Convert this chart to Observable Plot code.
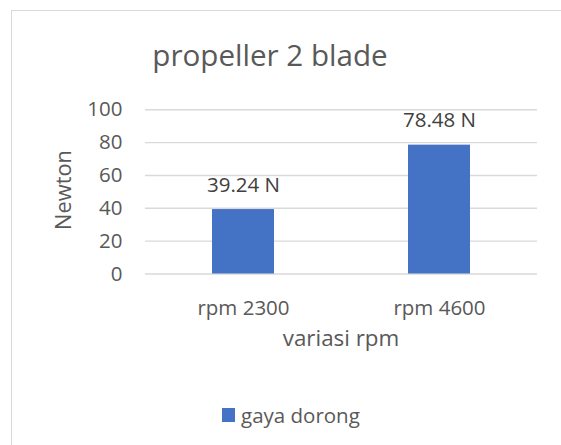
<!DOCTYPE html>
<html>
<head>
<meta charset="utf-8">
<script src="https://cdn.jsdelivr.net/npm/d3@7"></script>
<script src="https://cdn.jsdelivr.net/npm/@observablehq/plot@0.6"></script>
<style>
  html, body { margin: 0; padding: 0; background: #fff; }
  #wrap { position: relative; width: 561px; height: 445px; overflow: hidden; font-family: "Open Sans", sans-serif; color: #595959; }
  #frame { position: absolute; left: 11px; top: 10px; width: 600px; height: 500px; border-top: 1.5px solid #d9d9d9; border-left: 1.5px solid #d9d9d9; box-sizing: border-box; }
  #chart { position: absolute; left: 0; top: 0; }
  .t { position: absolute; line-height: 1; white-space: nowrap; }
  #title { font-size: 29.6px; left: 270px; top: 39.5px; transform: translateX(-50%); }
  #xlab { font-size: 22.4px; left: 341px; top: 327px; transform: translateX(-50%); }
  #ylab { font-size: 21.8px; left: 62.6px; top: 189.5px; transform: translate(-50%, -50%) rotate(-90deg); }
  #legend { position: absolute; left: 221.5px; top: 404.8px; display: flex; align-items: center; font-size: 20.5px; line-height: 1; }
  #legend .sw { width: 13.5px; height: 14px; background: #4472C4; margin-right: 6px; }
</style>
</head>
<body>
<div id="wrap">
  <div id="frame"></div>
  <div id="chart"></div>
  <div class="t" id="title"></div>
  <div class="t" id="xlab"></div>
  <div class="t" id="ylab"></div>
  <div id="legend"><div class="sw"></div><span id="legtext"></span></div>
</div>
<script>
const categories = ["rpm 2300", "rpm 4600"];
const values = [39.24, 78.48];
const labels = ["39.24 N", "78.48 N"];
const yTicks = [0, 20, 40, 60, 80, 100];
const seriesName = "gaya dorong";
const titleText = "propeller 2 blade";
const xTitle = "variasi rpm";
const yTitle = "Newton";

const data = categories.map((c, i) => ({cat: c, val: values[i], lab: labels[i]}));

const chart = Plot.plot({
  width: 561,
  height: 445,
  marginTop: 109.3,
  marginBottom: 171.5,
  marginLeft: 145,
  marginRight: 24,
  style: {fontFamily: "Open Sans, sans-serif", fontSize: "20.5px", color: "#595959", background: "transparent", overflow: "visible"},
  x: {domain: categories, paddingInner: 0.684, paddingOuter: 0.342, label: null},
  y: {domain: [0, 100], label: null},
  marks: [
    Plot.gridY(yTicks, {stroke: "#d9d9d9", strokeOpacity: 1, strokeWidth: 1.4}),
    Plot.barY(data, {x: "cat", y: "val", fill: "#4472C4"}),
    Plot.text(data, {x: "cat", y: "val", text: "lab", dy: -17.7, lineAnchor: "bottom", fill: "#404040", fontSize: 20.5}),
    Plot.axisY(yTicks, {tickSize: 0, tickPadding: 23, label: null, fontSize: 20.5}),
    Plot.axisX({tickSize: 0, tickPadding: 26, label: null, fontSize: 20.5})
  ]
});
document.getElementById("chart").appendChild(chart);
document.getElementById("title").textContent = titleText;
document.getElementById("xlab").textContent = xTitle;
document.getElementById("ylab").textContent = yTitle;
document.getElementById("legtext").textContent = seriesName;
</script>
</body>
</html>
